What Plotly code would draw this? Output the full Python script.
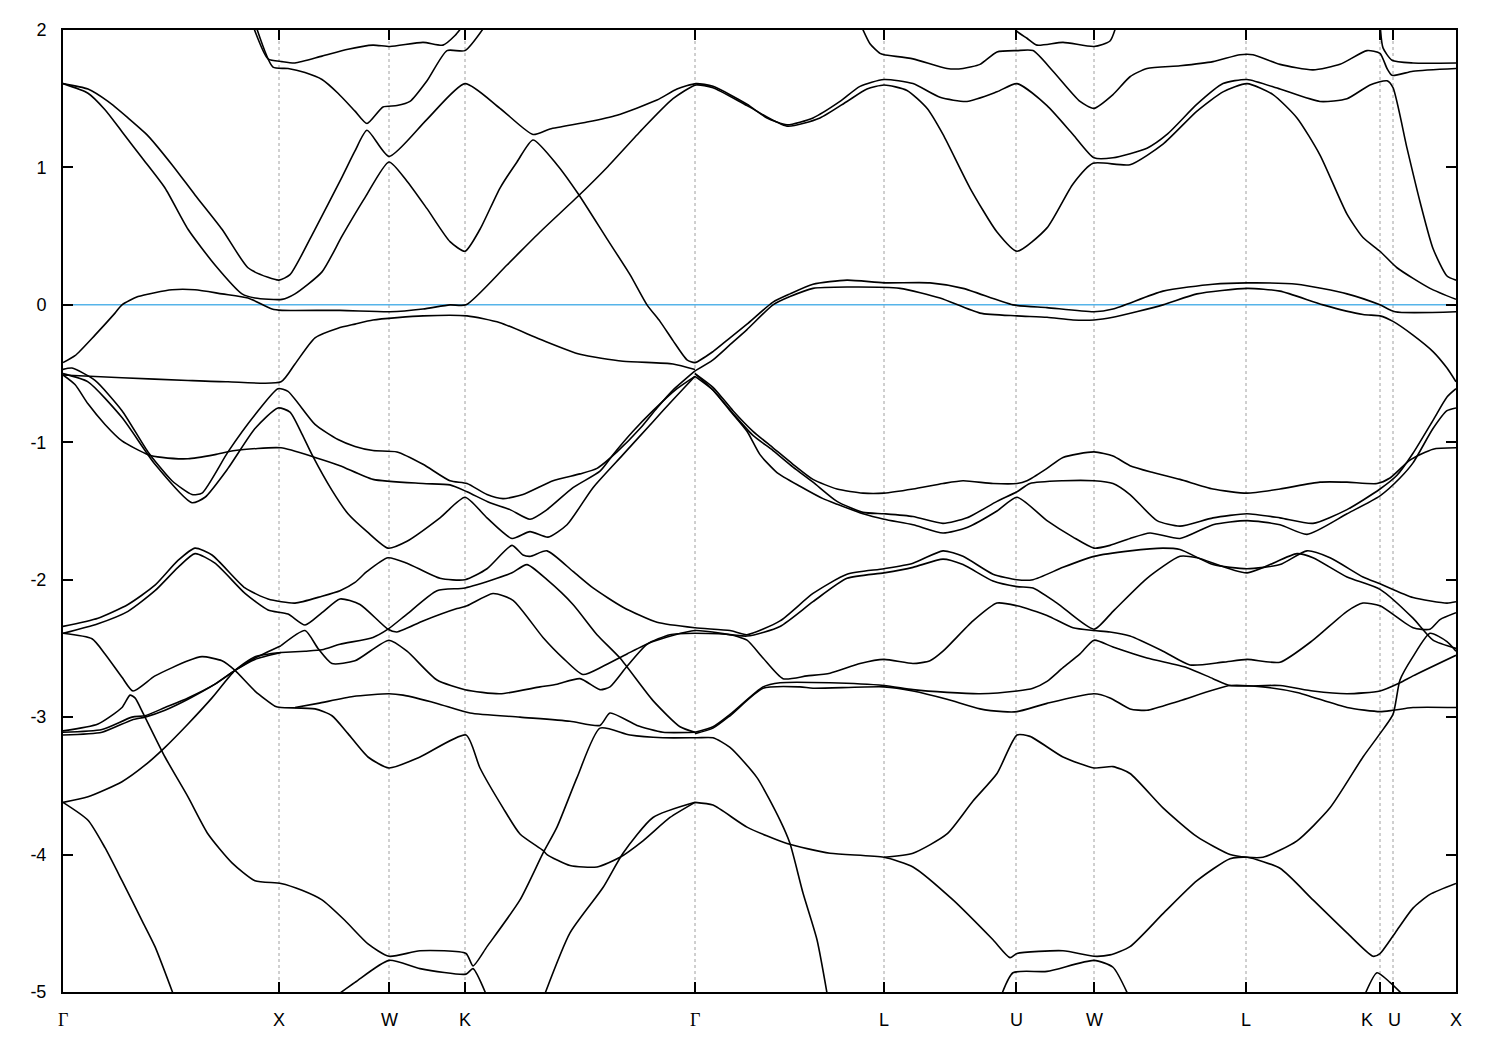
import plotly.graph_objects as go

# High-symmetry points: position along the k-path (arbitrary path-length units) and labels
K_POS = [0, 216, 326, 402, 632, 821, 953, 1031, 1183, 1317, 1330, 1393]
K_LABELS = ["Γ", "X", "W", "K", "Γ", "L", "U", "W", "L", "K", "U", "X"]
E_TICKS = [-5, -4, -3, -2, -1, 0, 1, 2]
E_TICK_LABELS = ["-5", "-4", "-3", "-2", "-1", "0", "1", "2"]

# Bands: (k-path position, energy in eV)
band_A = [(0,1.61),(25,1.57),(45,1.48),(65,1.36),(85,1.23),(109,1.02),(132,0.80),(159,0.55),(185,0.27),(205,0.20),(216,0.18),(227,0.22),(252,0.55),(279,0.93),(292,1.12),(304,1.27),(326,1.08),(364,1.35),(402,1.61),(437,1.43),(470,1.24),(487,1.28),(524,1.33),(554,1.38),(594,1.49),(614,1.57),(633,1.61),(650,1.59),(684,1.46),(704,1.36),(724,1.31),(750,1.36),(777,1.48),(797,1.59),(821,1.64),(850,1.61),(877,1.51),(904,1.48),(934,1.55),(954,1.61),(984,1.45),(1010,1.24),(1031,1.07),(1050,1.07),(1084,1.14),(1104,1.24),(1134,1.46),(1160,1.61),(1184,1.64),(1217,1.57),(1257,1.48),(1284,1.50),(1307,1.60),(1324,1.63),(1330,1.58),(1344,1.14),(1357,0.75),(1370,0.41),(1384,0.21),(1393,0.18)]
band_B = [(0,1.61),(25,1.54),(42,1.42),(59,1.26),(79,1.07),(102,0.85),(125,0.55),(152,0.29),(179,0.08),(192,0.05),(219,0.04),(232,0.08),(259,0.24),(279,0.50),(302,0.78),(326,1.04),(344,0.90),(364,0.70),(387,0.46),(402,0.39),(417,0.55),(437,0.85),(454,1.04),(470,1.20),(494,1.02),(515,0.81),(544,0.48),(567,0.22),(584,0.0),(597,-0.12),(610,-0.26),(624,-0.40),(632,-0.42),(650,-0.34),(667,-0.24),(684,-0.14),(710,0.02),(727,0.08),(750,0.15),(784,0.18),(821,0.16),(867,0.16),(900,0.12),(950,0.0),(984,-0.02),(1031,-0.05),(1050,-0.03),(1100,0.10),(1150,0.15),(1184,0.16),(1234,0.15),(1284,0.08),(1317,0.0),(1332,-0.05),(1393,-0.05)]
band_C = [(0,-0.42),(12,-0.37),(32,-0.22),(52,-0.06),(59,0.0),(75,0.06),(109,0.11),(132,0.11),(159,0.08),(185,0.05),(209,-0.03),(219,-0.04),(277,-0.04),(327,-0.05),(360,-0.03),(387,0.0),(403,0.0),(444,0.29),(477,0.53),(515,0.79),(544,1.0),(577,1.26),(610,1.50),(633,1.60),(650,1.58),(684,1.45),(724,1.30),(757,1.36),(784,1.48),(804,1.57),(821,1.60),(844,1.56),(864,1.43),(880,1.24),(907,0.85),(934,0.53),(954,0.39),(984,0.56),(1010,0.88),(1030,1.03),(1067,1.02),(1100,1.17),(1134,1.41),(1160,1.55),(1184,1.61),(1210,1.53),(1234,1.36),(1257,1.09),(1284,0.66),(1300,0.49),(1317,0.39),(1334,0.27),(1367,0.12),(1393,0.04)]
band_D = [(632,-0.48),(650,-0.40),(667,-0.29),(684,-0.18),(710,0.0),(727,0.06),(750,0.12),(784,0.13),(837,0.12),(877,0.05),(917,-0.06),(954,-0.08),(984,-0.09),(1010,-0.11),(1031,-0.11),(1050,-0.09),(1100,0.0),(1134,0.08),(1184,0.12),(1217,0.10),(1260,0.0),(1300,-0.07),(1317,-0.08),(1330,-0.12),(1350,-0.22),(1370,-0.34),(1384,-0.46),(1393,-0.56)]
band_E = [(0,-0.51),(59,-0.53),(125,-0.55),(165,-0.56),(218,-0.56),(232,-0.43),(252,-0.24),(275,-0.17),(292,-0.14),(310,-0.11),(360,-0.08),(404,-0.08),(437,-0.13),(477,-0.25),(517,-0.36),(560,-0.41),(610,-0.43),(632,-0.47)]
band_F1 = [(0,-0.47),(9,-0.46),(32,-0.55),(59,-0.77),(85,-1.07),(109,-1.28),(129,-1.38),(139,-1.37),(165,-1.07),(192,-0.80),(215,-0.61),(225,-0.63),(252,-0.87),(275,-0.98),(292,-1.03),(310,-1.06),(334,-1.07),(360,-1.16),(387,-1.28),(404,-1.30),(424,-1.38),(440,-1.41),(460,-1.38),(490,-1.28),(517,-1.23),(534,-1.19),(554,-1.07),(577,-0.90),(594,-0.75),(610,-0.62),(632,-0.48)]
band_H1 = [(632,-0.50),(650,-0.60),(670,-0.77),(690,-0.92),(710,-1.04),(730,-1.16),(750,-1.27),(774,-1.34),(800,-1.37),(821,-1.37),(850,-1.34),(880,-1.30),(900,-1.28),(930,-1.30),(954,-1.30),(964,-1.28),(984,-1.19),(1000,-1.11),(1031,-1.07),(1050,-1.10),(1067,-1.17),(1090,-1.22),(1117,-1.27),(1150,-1.34),(1184,-1.37),(1217,-1.34),(1257,-1.29),(1284,-1.29),(1314,-1.30),(1327,-1.26),(1347,-1.13),(1370,-1.05),(1393,-1.04)]
band_F2 = [(0,-0.50),(25,-0.56),(59,-0.82),(92,-1.16),(129,-1.44),(142,-1.40),(165,-1.19),(192,-0.90),(215,-0.75),(227,-0.78),(239,-0.94),(249,-1.09),(269,-1.35),(285,-1.52),(304,-1.65),(325,-1.77),(344,-1.72),(377,-1.55),(402,-1.40),(424,-1.55),(449,-1.70),(467,-1.65),(485,-1.69),(504,-1.60),(530,-1.33),(560,-1.09),(590,-0.85),(610,-0.69),(632,-0.52)]
band_H3 = [(632,-0.52),(650,-0.62),(667,-0.77),(684,-0.92),(697,-1.09),(714,-1.22),(737,-1.32),(760,-1.41),(774,-1.45),(800,-1.52),(821,-1.56),(850,-1.60),(880,-1.66),(904,-1.62),(934,-1.50),(954,-1.40),(984,-1.57),(1010,-1.69),(1031,-1.77),(1047,-1.75),(1067,-1.70),(1087,-1.66),(1117,-1.70),(1150,-1.60),(1184,-1.57),(1217,-1.60),(1244,-1.67),(1284,-1.52),(1317,-1.39),(1337,-1.26),(1350,-1.15),(1370,-0.90),(1384,-0.77),(1393,-0.75)]
band_G = [(0,-0.51),(12,-0.58),(25,-0.72),(42,-0.87),(59,-0.99),(85,-1.09),(99,-1.11),(125,-1.12),(152,-1.09),(172,-1.06),(218,-1.04),(252,-1.11),(277,-1.17),(310,-1.27),(360,-1.30),(387,-1.31),(404,-1.36),(427,-1.44),(447,-1.49),(467,-1.56),(484,-1.49),(510,-1.33),(537,-1.21),(550,-1.09),(570,-0.92),(590,-0.77),(614,-0.61),(632,-0.52)]
band_H2 = [(632,-0.50),(650,-0.62),(670,-0.79),(690,-0.95),(710,-1.06),(730,-1.18),(750,-1.29),(774,-1.43),(800,-1.51),(821,-1.52),(850,-1.54),(880,-1.59),(904,-1.55),(934,-1.43),(954,-1.36),(967,-1.30),(1000,-1.28),(1031,-1.28),(1050,-1.30),(1067,-1.38),(1094,-1.57),(1117,-1.61),(1150,-1.55),(1184,-1.52),(1217,-1.55),(1250,-1.59),(1284,-1.49),(1317,-1.34),(1334,-1.24),(1350,-1.08),(1370,-0.84),(1384,-0.67),(1393,-0.61)]
band_T1 = [(189,2.05),(205,1.79),(219,1.77),(232,1.76),(259,1.81),(285,1.86),(310,1.89),(327,1.88),(360,1.91),(380,1.89),(392,1.96),(402,2.05)]
band_T2 = [(192,2.05),(210,1.73),(225,1.72),(242,1.69),(259,1.64),(275,1.54),(292,1.41),(304,1.32),(320,1.44),(334,1.45),(347,1.48),(364,1.63),(384,1.85),(402,1.85),(424,2.05)]
band_T3 = [(797,2.05),(807,1.90),(817,1.83),(821,1.82),(850,1.79),(884,1.72),(900,1.72),(917,1.75),(934,1.84),(954,1.85),(970,1.85),(990,1.70),(1017,1.48),(1031,1.43),(1050,1.53),(1067,1.66),(1084,1.72),(1117,1.74),(1150,1.77),(1177,1.82),(1190,1.82),(1217,1.75),(1250,1.71),(1277,1.75),(1304,1.85),(1317,1.83),(1324,1.72),(1329,1.67),(1350,1.70),(1393,1.72)]
band_T4 = [(948,2.05),(954,1.99),(964,1.94),(974,1.89),(1000,1.91),(1031,1.88),(1047,1.92),(1054,2.05)]
band_T5 = [(1317,2.05),(1320,1.87),(1329,1.78),(1350,1.76),(1393,1.76)]
band_DU = [(0,-2.34),(35,-2.28),(65,-2.18),(92,-2.04),(115,-1.86),(132,-1.77),(149,-1.82),(182,-2.06),(205,-2.14),(232,-2.17),(259,-2.12),(277,-2.08),(292,-2.02),(304,-1.94),(325,-1.84),(344,-1.88),(377,-1.99),(402,-2.00),(424,-1.92),(449,-1.75),(460,-1.82),(467,-1.83),(484,-1.79),(510,-1.94),(530,-2.06),(560,-2.20),(594,-2.31),(632,-2.35),(667,-2.37),(684,-2.40),(717,-2.30),(750,-2.10),(784,-1.96),(821,-1.92),(850,-1.88),(880,-1.79),(900,-1.83),(930,-1.96),(954,-2.00),(970,-2.00),(1000,-1.91),(1031,-1.83),(1067,-1.79),(1100,-1.77),(1117,-1.78),(1150,-1.89),(1184,-1.92),(1217,-1.89),(1244,-1.79),(1267,-1.84),(1300,-1.98),(1317,-2.03),(1350,-2.13),(1384,-2.17),(1393,-2.16)]
band_DL = [(0,-2.39),(35,-2.32),(65,-2.23),(92,-2.08),(115,-1.91),(132,-1.81),(152,-1.88),(182,-2.10),(205,-2.22),(225,-2.25),(242,-2.33),(259,-2.24),(277,-2.14),(297,-2.18),(325,-2.36),(334,-2.38),(360,-2.30),(394,-2.21),(404,-2.19),(430,-2.10),(450,-2.15),(480,-2.42),(500,-2.57),(520,-2.69),(540,-2.63),(564,-2.54),(590,-2.45),(632,-2.37),(684,-2.41),(717,-2.34),(750,-2.16),(784,-1.99),(821,-1.95),(850,-1.91),(880,-1.85),(900,-1.89),(930,-2.01),(954,-2.05),(970,-2.06),(994,-2.17),(1031,-2.36),(1050,-2.23),(1084,-1.99),(1117,-1.83),(1134,-1.84),(1184,-1.95),(1234,-1.81),(1250,-1.84),(1284,-1.98),(1317,-2.07),(1350,-2.28),(1370,-2.44),(1393,-2.50)]
band_P = [(218,-2.53),(242,-2.52),(259,-2.51),(277,-2.47),(310,-2.42),(325,-2.36),(344,-2.25),(374,-2.08),(402,-2.06),(434,-1.99),(449,-1.95),(464,-1.89),(484,-2.00),(510,-2.18),(534,-2.40),(557,-2.57),(590,-2.88),(617,-3.07),(632,-3.11)]
band_S = [(218,-2.48),(242,-2.37),(255,-2.50),(269,-2.61),(292,-2.59),(326,-2.44),(344,-2.52),(374,-2.73),(402,-2.80),(437,-2.83),(477,-2.78),(494,-2.76),(517,-2.72),(537,-2.80),(547,-2.78),(564,-2.63),(584,-2.47),(607,-2.40),(632,-2.39)]
band_R = [(232,-2.93),(255,-2.90),(290,-2.85),(326,-2.83),(340,-2.84),(374,-2.90),(407,-2.97),(457,-3.00),(507,-3.03),(537,-3.06),(547,-2.97),(574,-3.06),(600,-3.11),(632,-3.11)]
band_S2 = [(0,-2.39),(29,-2.43),(42,-2.54),(59,-2.71),(70,-2.81),(92,-2.70),(125,-2.59),(139,-2.56),(159,-2.59),(172,-2.66),(192,-2.81),(212,-2.92),(218,-2.93),(252,-2.94),(269,-2.99),(285,-3.12),(305,-3.29),(326,-3.37),(357,-3.29),(403,-3.13),(417,-3.37),(440,-3.66),(457,-3.85),(480,-3.97),(484,-4.0),(507,-4.08),(534,-4.09),(557,-4.02),(580,-3.90),(607,-3.73),(632,-3.62)]
band_S3 = [(0,-3.10),(35,-3.05),(59,-2.93),(67,-2.84),(72,-2.86),(80,-2.97),(102,-3.29),(125,-3.58),(145,-3.85),(169,-4.06),(192,-4.19),(218,-4.21),(239,-4.26),(259,-4.33),(282,-4.48),(305,-4.65),(326,-4.74),(357,-4.70),(403,-4.72),(410,-4.81),(424,-4.67),(457,-4.33),(480,-3.99),(494,-3.80),(514,-3.44),(537,-3.08),(567,-3.13),(600,-3.15),(634,-3.15),(650,-3.15),(667,-3.22),(694,-3.44),(717,-3.75),(727,-3.92),(740,-4.28),(754,-4.62),(765,-5.05)]
band_S1 = [(0,-3.62),(25,-3.75),(42,-3.95),(59,-4.19),(79,-4.48),(92,-4.67),(112,-5.05)]
band_R1 = [(0,-3.62),(25,-3.58),(59,-3.47),(82,-3.35),(102,-3.22),(125,-3.05),(149,-2.86),(172,-2.66),(192,-2.56),(218,-2.53)]
band_Ba = [(0,-3.11),(39,-3.09),(69,-3.0),(82,-2.99),(102,-2.93),(125,-2.86),(152,-2.76),(172,-2.66),(192,-2.57),(218,-2.48)]
band_Bb = [(0,-3.13),(39,-3.11),(69,-3.02),(82,-3.0),(102,-2.95),(125,-2.87),(152,-2.76),(172,-2.66),(192,-2.58),(218,-2.53)]
band_WB = [(269,-5.05),(292,-4.93),(326,-4.77),(357,-4.83),(403,-4.87),(410,-4.83),(425,-5.05)]
band_V5 = [(480,-5.05),(507,-4.57),(540,-4.24),(560,-3.99),(590,-3.73),(632,-3.62)]
band_M1 = [(632,-3.62),(650,-3.64),(684,-3.80),(724,-3.92),(767,-3.99),(821,-4.02),(850,-4.09),(890,-4.33),(930,-4.62),(947,-4.75),(954,-4.72),(1000,-4.70),(1031,-4.74),(1047,-4.73),(1067,-4.67),(1100,-4.43),(1134,-4.19),(1167,-4.03),(1184,-4.02),(1217,-4.10),(1250,-4.33),(1284,-4.57),(1310,-4.74),(1317,-4.72),(1334,-4.55),(1350,-4.39),(1367,-4.29),(1393,-4.21)]
band_M2 = [(821,-4.02),(850,-3.99),(884,-3.85),(910,-3.61),(934,-3.41),(954,-3.13),(967,-3.14),(1000,-3.29),(1031,-3.37),(1050,-3.36),(1067,-3.41),(1100,-3.66),(1134,-3.87),(1167,-4.0),(1184,-4.02),(1200,-4.02),(1234,-3.90),(1267,-3.66),(1300,-3.29),(1317,-3.12),(1330,-2.98),(1337,-2.73),(1350,-2.56),(1367,-2.39),(1384,-2.45),(1393,-2.52)]
band_UB = [(937,-5.05),(950,-4.86),(984,-4.85),(1031,-4.77),(1050,-4.82),(1067,-5.05)]
band_KB = [(1300,-5.05),(1314,-4.86),(1327,-4.93),(1344,-5.05)]
band_U1 = [(632,-3.11),(650,-3.07),(667,-2.98),(700,-2.78),(717,-2.75),(767,-2.75),(821,-2.77),(850,-2.80),(884,-2.82),(917,-2.83),(954,-2.81),(970,-2.79),(984,-2.74),(1000,-2.64),(1017,-2.54),(1031,-2.44),(1050,-2.49),(1084,-2.57),(1124,-2.64),(1150,-2.72),(1167,-2.77),(1217,-2.77),(1250,-2.81),(1284,-2.83),(1317,-2.81),(1337,-2.75),(1350,-2.70),(1393,-2.55)]
band_U2 = [(632,-3.12),(650,-3.08),(667,-2.99),(700,-2.79),(737,-2.78),(750,-2.79),(821,-2.78),(850,-2.81),(884,-2.87),(917,-2.94),(940,-2.96),(954,-2.96),(984,-2.90),(1031,-2.83),(1047,-2.86),(1067,-2.94),(1084,-2.95),(1117,-2.88),(1167,-2.77),(1200,-2.78),(1234,-2.82),(1284,-2.93),(1317,-2.96),(1330,-2.95),(1350,-2.93),(1393,-2.93)]
band_V = [(632,-2.39),(667,-2.40),(684,-2.44),(700,-2.57),(720,-2.72),(744,-2.70),(767,-2.68),(797,-2.61),(821,-2.58),(850,-2.61),(867,-2.59),(880,-2.52),(910,-2.30),(934,-2.17),(954,-2.19),(984,-2.26),(1010,-2.35),(1031,-2.37),(1047,-2.38),(1067,-2.41),(1100,-2.52),(1127,-2.62),(1160,-2.60),(1184,-2.58),(1217,-2.60),(1250,-2.44),(1284,-2.23),(1300,-2.17),(1317,-2.19),(1350,-2.35),(1367,-2.36),(1377,-2.29),(1393,-2.24)]

BANDS = [band_A, band_B, band_C, band_D, band_E, band_F1, band_H1, band_F2, band_H3,
         band_G, band_H2, band_T1, band_T2, band_T3, band_T4, band_T5, band_DU, band_DL,
         band_P, band_S, band_R, band_S2, band_S3, band_S1, band_R1, band_Ba, band_Bb,
         band_WB, band_V5, band_M1, band_M2, band_UB, band_KB, band_U1, band_U2, band_V]

E_FERMI = 0.0
E_RANGE = [-5, 2]

FONT = "Liberation Sans, Arial, sans-serif"

fig = go.Figure()

# Fermi level
fig.add_trace(go.Scatter(x=[K_POS[0], K_POS[-1]], y=[E_FERMI, E_FERMI], mode="lines",
                         line=dict(color="#56B4E9", width=1.5), hoverinfo="skip", showlegend=False))

for band in BANDS:
    ks = [p[0] for p in band]
    es = [p[1] for p in band]
    fig.add_trace(go.Scatter(x=ks, y=es, mode="lines",
                             line=dict(color="black", width=1.6, shape="spline", smoothing=0.6),
                             hoverinfo="skip", showlegend=False))

# vertical dashed lines at inner high-symmetry points
for kp in K_POS[1:-1]:
    fig.add_shape(type="line", xref="x", yref="y", x0=kp, x1=kp, y0=E_RANGE[0], y1=E_RANGE[1],
                  line=dict(color="#a0a0a0", width=1, dash="3px,3px"), layer="below")

# k-point labels (K and U at the path break are nudged apart)
label_shift = {9: -13, 10: 1}
for i, (kp, lab) in enumerate(zip(K_POS, K_LABELS)):
    fam = "Liberation Serif, serif" if lab == "Γ" else FONT
    fig.add_annotation(x=kp, y=0, xref="x", yref="paper", text=lab, showarrow=False,
                       xanchor="center", yanchor="top", xshift=label_shift.get(i, 0), yshift=-16,
                       font=dict(family=fam, size=18, color="black"))

fig.update_layout(
    width=1484, height=1034,
    margin=dict(l=55, r=36, t=20, b=50),
    paper_bgcolor="white", plot_bgcolor="white",
    font=dict(family=FONT, size=18, color="black"),
    xaxis=dict(range=[K_POS[0], K_POS[-1]], tickmode="array", tickvals=K_POS,
               ticktext=[""] * len(K_POS),
               ticks="inside", ticklen=10, tickwidth=2, tickcolor="black",
               showline=True, linecolor="black", linewidth=2, mirror="allticks",
               showgrid=False, zeroline=False),
    yaxis=dict(range=E_RANGE, tickmode="array", tickvals=E_TICKS, ticktext=E_TICK_LABELS,
               ticks="inside", ticklen=10, tickwidth=2, tickcolor="black", ticklabelstandoff=11,
               showline=True, linecolor="black", linewidth=2, mirror="allticks",
               showgrid=False, zeroline=False),
)

fig.write_html("out.html")
